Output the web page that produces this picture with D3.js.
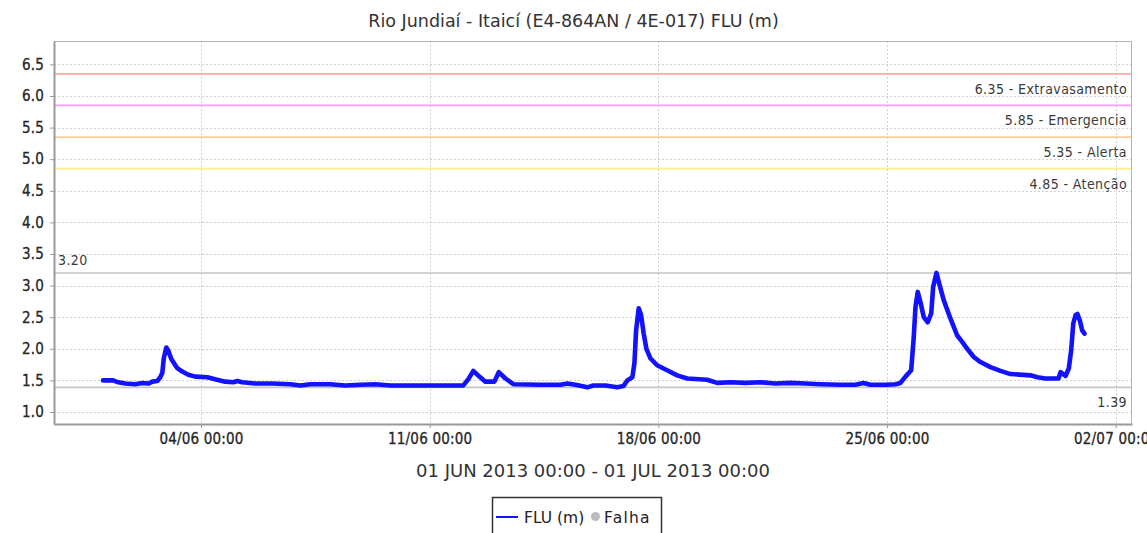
<!DOCTYPE html>
<html>
<head>
<meta charset="utf-8">
<script src="https://cdn.jsdelivr.net/npm/d3@7/dist/d3.min.js"></script>
<style>
  html, body { margin: 0; padding: 0; background: #fff; }
  svg { display: block; }
</style>
</head>
<body>
<svg id="chart" width="1147" height="533"></svg>
<script>
// Station level series (FLU, metres), June 2013
const obsTimes = [
  "2013-06-01 00:00","2013-06-01 07:30","2013-06-01 11:15","2013-06-01 16:25","2013-06-01 23:45",
  "2013-06-02 04:50","2013-06-02 09:20","2013-06-02 12:15","2013-06-02 15:55","2013-06-02 18:05",
  "2013-06-02 19:35","2013-06-02 20:40","2013-06-02 22:30","2013-06-03 00:00","2013-06-03 02:10",
  "2013-06-03 06:20","2013-06-03 10:15","2013-06-03 14:40","2013-06-03 19:50","2013-06-04 04:40",
  "2013-06-04 11:45","2013-06-04 17:50","2013-06-04 23:45","2013-06-05 02:40","2013-06-05 06:20",
  "2013-06-05 15:55","2013-06-06 04:25","2013-06-06 17:40","2013-06-07 01:00","2013-06-07 08:20",
  "2013-06-07 23:00","2013-06-08 10:05","2013-06-08 21:05","2013-06-09 08:05","2013-06-09 19:05",
  "2013-06-10 09:50","2013-06-11 00:30","2013-06-11 15:15","2013-06-12 00:45","2013-06-12 04:25",
  "2013-06-12 08:05","2013-06-12 12:30","2013-06-12 16:55","2013-06-12 23:35","2013-06-13 02:45",
  "2013-06-13 07:40","2013-06-13 13:30","2013-06-14 09:20","2013-06-15 00:00","2013-06-15 05:10",
  "2013-06-15 11:05","2013-06-15 19:55","2013-06-16 00:15","2013-06-16 09:05","2013-06-16 17:55",
  "2013-06-16 22:20","2013-06-17 01:15","2013-06-17 04:55","2013-06-17 06:25","2013-06-17 07:40",
  "2013-06-17 09:35","2013-06-17 11:20","2013-06-17 13:15","2013-06-17 15:15","2013-06-17 18:10",
  "2013-06-17 23:05","2013-06-18 06:25","2013-06-18 13:50","2013-06-18 21:10","2013-06-19 11:50",
  "2013-06-19 19:10","2013-06-20 04:55","2013-06-20 16:00","2013-06-21 03:00","2013-06-21 14:00",
  "2013-06-22 01:05","2013-06-22 12:05","2013-06-22 23:05","2013-06-23 13:50","2013-06-24 00:50",
  "2013-06-24 06:40","2013-06-24 11:50","2013-06-25 00:05","2013-06-25 06:15","2013-06-25 09:55",
  "2013-06-25 13:35","2013-06-25 17:45","2013-06-25 19:40","2013-06-25 20:55","2013-06-25 22:35",
  "2013-06-26 00:35","2013-06-26 03:00","2013-06-26 05:55","2013-06-26 08:30","2013-06-26 09:55",
  "2013-06-26 12:20","2013-06-26 14:45","2013-06-26 17:40","2013-06-26 22:35","2013-06-27 03:35",
  "2013-06-27 07:15","2013-06-27 10:55","2013-06-27 15:45","2013-06-27 20:40","2013-06-28 04:00",
  "2013-06-28 11:20","2013-06-28 18:45","2013-06-29 09:25","2013-06-29 14:35","2013-06-29 20:25",
  "2013-06-30 06:00","2013-06-30 07:30","2013-06-30 11:10","2013-06-30 13:35","2013-06-30 15:20",
  "2013-06-30 16:50","2013-06-30 18:30","2013-06-30 19:55","2013-06-30 21:40","2013-06-30 23:25",
  "2013-07-01 01:05"
];
const fluValues = [
  1.50,1.50,1.47,1.45,1.44,
  1.46,1.45,1.48,1.49,1.55,
  1.62,1.85,2.02,1.97,1.84,
  1.70,1.64,1.59,1.56,1.55,
  1.51,1.48,1.47,1.49,1.47,
  1.45,1.45,1.44,1.42,1.44,
  1.44,1.42,1.43,1.44,1.42,
  1.42,1.42,1.42,1.42,1.52,
  1.65,1.56,1.48,1.48,1.63,
  1.53,1.44,1.43,1.43,1.45,
  1.43,1.39,1.42,1.42,1.39,
  1.41,1.50,1.55,1.77,2.29,
  2.64,2.53,2.24,2.00,1.85,
  1.74,1.66,1.58,1.53,1.51,
  1.46,1.47,1.46,1.47,1.45,
  1.46,1.45,1.44,1.43,1.43,
  1.46,1.43,1.43,1.44,1.46,
  1.56,1.66,2.19,2.66,2.90,
  2.74,2.50,2.42,2.56,2.98,
  3.20,3.00,2.77,2.48,2.21,
  2.11,2.00,1.87,1.79,1.71,
  1.65,1.60,1.58,1.55,1.53,
  1.53,1.63,1.57,1.69,1.98,
  2.40,2.53,2.55,2.45,2.29,
  2.24
];

// Alarm thresholds
const thresholdValues = [6.35, 5.85, 5.35, 4.85];
const thresholdNames  = ["Extravasamento", "Emergencia", "Alerta", "Atenção"];
const thresholdColors = ["#ffaaaa", "#ff9cff", "#ffcc99", "#ffee88"];

// Axis ticks
const yTickValues = [1.0, 1.5, 2.0, 2.5, 3.0, 3.5, 4.0, 4.5, 5.0, 5.5, 6.0, 6.5];
const xTickLabels = ["04/06 00:00", "11/06 00:00", "18/06 00:00", "25/06 00:00", "02/07 00:00"];

const chartTitle = "Rio Jundiaí - Itaicí (E4-864AN / 4E-017) FLU (m)";
const periodLabel = "01 JUN 2013 00:00 - 01 JUL 2013 00:00";
const legendItems = ["FLU (m)", "Falha"];

const parseTime = d3.utcParse("%Y-%m-%d %H:%M");
const parseTick = d3.utcParse("%d/%m %H:%M");
const series = obsTimes.map((t, i) => ({ t: parseTime(t), v: fluValues[i] }));
const tickDates = xTickLabels.map(s => { const d = parseTick(s); d.setUTCFullYear(2013); return d; });

const W = 1147, H = 533;
const plot = { left: 54, top: 41, right: 1132, bottom: 424 };

const svg = d3.select("#chart");
const condensed = "'DejaVu Sans Condensed', 'DejaVu Sans', sans-serif";
const regular = "'DejaVu Sans', sans-serif";

// Period June 1 – July 1 with 5% padding at each side
const t0 = parseTime("2013-06-01 00:00"), t1 = parseTime("2013-07-01 00:00");
const pad = (t1 - t0) * 0.05;
const x = d3.scaleUtc()
  .domain([new Date(+t0 - pad), new Date(+t1 + pad)])
  .range([plot.left, plot.right]);
const y = d3.scaleLinear()
  .domain([0.81, 6.87])
  .range([plot.bottom, plot.top]);

const vMax = d3.max(fluValues), vMin = d3.min(fluValues);

// Background
svg.append("rect").attr("x", plot.left).attr("y", plot.top)
  .attr("width", plot.right - plot.left).attr("height", plot.bottom - plot.top)
  .attr("fill", "#fff");

// Grid
const grid = svg.append("g").attr("stroke", "#d0d0d0").attr("stroke-width", 1)
  .attr("stroke-dasharray", "2,2");
grid.selectAll("line.h").data(yTickValues).join("line")
  .attr("x1", plot.left).attr("x2", plot.right)
  .attr("y1", d => Math.round(y(d)) + 0.5).attr("y2", d => Math.round(y(d)) + 0.5);
grid.selectAll("line.v").data(tickDates).join("line")
  .attr("y1", plot.top).attr("y2", plot.bottom)
  .attr("x1", d => Math.round(x(d)) + 0.5).attr("x2", d => Math.round(x(d)) + 0.5);

// Threshold lines and labels
const labelStyle = sel => sel
  .attr("font-family", condensed).attr("font-size", 14).attr("fill", "#3a3a3a")
  .attr("letter-spacing", 0.4);
const thr = svg.append("g");
thresholdValues.forEach((v, i) => {
  thr.append("line")
    .attr("x1", plot.left).attr("x2", plot.right)
    .attr("y1", y(v)).attr("y2", y(v))
    .attr("stroke", thresholdColors[i]).attr("stroke-width", 1.8);
  thr.append("text")
    .attr("x", plot.right - 5).attr("y", y(v) + 20)
    .attr("text-anchor", "end")
    .call(labelStyle)
    .text(d3.format(".2f")(v) + " - " + thresholdNames[i]);
});

// Max / min reference lines
svg.append("line").attr("x1", plot.left).attr("x2", plot.right)
  .attr("y1", y(vMax)).attr("y2", y(vMax)).attr("stroke", "#c4c4c4").attr("stroke-width", 1.6);
svg.append("text").attr("x", plot.left + 4).attr("y", y(vMax) - 8)
  .call(labelStyle)
  .text(d3.format(".2f")(vMax));
svg.append("line").attr("x1", plot.left).attr("x2", plot.right)
  .attr("y1", y(vMin)).attr("y2", y(vMin)).attr("stroke", "#c4c4c4").attr("stroke-width", 1.6);
svg.append("text").attr("x", plot.right - 5).attr("y", y(vMin) + 20)
  .attr("text-anchor", "end")
  .call(labelStyle)
  .text(d3.format(".2f")(vMin));

// Series line
const line = d3.line().x(d => x(d.t)).y(d => y(d.v)).curve(d3.curveLinear);
svg.append("path").datum(series)
  .attr("d", line)
  .attr("fill", "none").attr("stroke", "#1212ff").attr("stroke-width", 4.6)
  .attr("stroke-linejoin", "round").attr("stroke-linecap", "round");

// Plot outline
svg.append("rect").attr("x", plot.left + 0.5).attr("y", plot.top + 0.5)
  .attr("width", plot.right - plot.left - 1).attr("height", plot.bottom - plot.top)
  .attr("fill", "none").attr("stroke", "#b4b4b4").attr("stroke-width", 1);

// Axes
const yAxis = d3.axisLeft(y).tickValues(yTickValues).tickFormat(d3.format(".1f"))
  .tickSizeInner(4).tickSizeOuter(0).tickPadding(6);
const gy = svg.append("g").attr("transform", `translate(${plot.left},0)`).call(yAxis);
const xAxis = d3.axisBottom(x).tickValues(tickDates).tickFormat((d, i) => xTickLabels[i])
  .tickSizeInner(4).tickSizeOuter(0).tickPadding(5);
const gx = svg.append("g").attr("transform", `translate(0,${plot.bottom})`).call(xAxis);
[gx, gy].forEach(g => {
  g.select(".domain").attr("stroke", "#9a9a9a").attr("stroke-width", 2);
  g.selectAll(".tick line").attr("stroke", "#9a9a9a").attr("stroke-width", 1);
  g.selectAll(".tick text").attr("font-family", condensed).attr("font-size", 15)
    .attr("fill", "#262626").attr("stroke", "#262626").attr("stroke-width", 0.3)
    .attr("letter-spacing", 0.2);
});

// Title and period label
svg.append("text").attr("x", W / 2).attr("y", 27).attr("text-anchor", "middle")
  .attr("font-family", regular).attr("font-size", 17.5).attr("fill", "#333")
  .text(chartTitle);
svg.append("text").attr("x", (plot.left + plot.right) / 2).attr("y", 477).attr("text-anchor", "middle")
  .attr("font-family", regular).attr("font-size", 18).attr("fill", "#333")
  .text(periodLabel);

// Legend
const lg = svg.append("g");
lg.append("rect").attr("x", 492.5).attr("y", 497.5).attr("width", 169).attr("height", 45)
  .attr("fill", "#fff").attr("stroke", "#333").attr("stroke-width", 1.5);
lg.append("line").attr("x1", 496).attr("x2", 518).attr("y1", 517).attr("y2", 517)
  .attr("stroke", "#1212ff").attr("stroke-width", 2);
lg.append("text").attr("x", 524).attr("y", 522.5)
  .attr("font-family", regular).attr("font-size", 15.5).attr("fill", "#222").text(legendItems[0]);
lg.append("circle").attr("cx", 595.5).attr("cy", 516.5).attr("r", 4.5).attr("fill", "#bbb");
lg.append("text").attr("x", 604).attr("y", 522.5)
  .attr("font-family", regular).attr("font-size", 15.5).attr("fill", "#222")
  .attr("letter-spacing", 1.2).text(legendItems[1]);
</script>
</body>
</html>
